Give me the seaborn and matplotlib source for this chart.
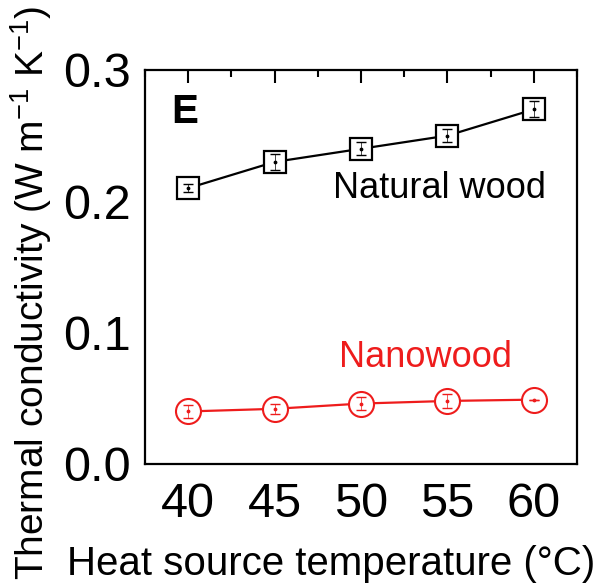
import matplotlib
matplotlib.use("Agg")
import matplotlib.pyplot as plt
import seaborn as sns
import pandas as pd
from matplotlib.ticker import MultipleLocator

temps = [40, 45, 50, 55, 60]
natural_wood = [0.210, 0.230, 0.240, 0.250, 0.270]
natural_err = [0.003, 0.006, 0.005, 0.005, 0.006]
nanowood = [0.040, 0.042, 0.046, 0.048, 0.049]
nanowood_err = [0.005, 0.004, 0.005, 0.005, 0.000]

sns.set_style("white")
plt.rcParams['font.family'] = ['Liberation Sans', 'DejaVu Sans']
plt.rcParams['mathtext.fontset'] = 'custom'
plt.rcParams['mathtext.rm'] = 'Liberation Sans'
plt.rcParams['text.color'] = 'black'
plt.rcParams['axes.labelcolor'] = 'black'
plt.rcParams['xtick.color'] = 'black'
plt.rcParams['ytick.color'] = 'black'

RED = "#ee1c1c"

df = pd.DataFrame({
    "T": temps * 2,
    "k": natural_wood + nanowood,
    "sample": ["Natural wood"] * 5 + ["Nanowood"] * 5,
})

fig = plt.figure(figsize=(6.01, 5.88), dpi=100)
ax = fig.add_axes([0.2413, 0.2109, 0.7188, 0.6701])

nw = df[df["sample"] == "Natural wood"]
nn = df[df["sample"] == "Nanowood"]
sns.lineplot(data=nw, x="T", y="k", ax=ax, color="black", lw=1.6,
             marker="s", markersize=16, markerfacecolor="white",
             markeredgecolor="black", markeredgewidth=1.6, legend=False)
sns.lineplot(data=nn, x="T", y="k", ax=ax, color=RED, lw=1.6,
             marker="o", markersize=18, markerfacecolor="white",
             markeredgecolor=RED, markeredgewidth=1.5, legend=False)

ax.errorbar(temps, natural_wood, yerr=natural_err, fmt="none", ecolor="black",
            elinewidth=0.5, capsize=3.6, capthick=1.0, zorder=5)
ax.errorbar(temps, nanowood, yerr=nanowood_err, fmt="none", ecolor=RED,
            elinewidth=0.5, capsize=3.6, capthick=1.0, zorder=5)
ax.scatter(temps, natural_wood, s=3, color="black", zorder=6)
ax.scatter(temps, nanowood, s=3, color=RED, zorder=6)

ax.set_xlim(37.5, 62.5)
ax.set_ylim(0.0, 0.3)
ax.xaxis.set_major_locator(MultipleLocator(5))
ax.xaxis.set_minor_locator(MultipleLocator(2.5))
ax.yaxis.set_major_locator(MultipleLocator(0.1))
ax.yaxis.set_minor_locator(MultipleLocator(0.02))
ax.yaxis.set_major_formatter(matplotlib.ticker.FormatStrFormatter("%.1f"))

ax.tick_params(axis="both", which="both", direction="in", top=True, right=False,
               labelsize=35, width=1.5, color="black", labelcolor="black")
ax.tick_params(which="major", length=9)
ax.tick_params(which="minor", length=5)
ax.tick_params(axis="x", pad=13)
ax.tick_params(axis="y", pad=10)
for s in ax.spines.values():
    s.set_linewidth(1.6)
    s.set_color("black")

ax.set_xlabel("Heat source temperature (°C)", fontsize=29)
ax.set_ylabel("Thermal conductivity (W m$^{-1}$ K$^{-1}$)", fontsize=28)
ax.xaxis.label.set_va("baseline")
ax.xaxis.set_label_coords(0.431, (464 - 575) / 394)
ax.yaxis.label.set_va("baseline")
ax.yaxis.set_label_coords((44 - 145) / 432, (464 - 293) / 394)

ax.text(0.06, 0.893, "E", transform=ax.transAxes, fontsize=29,
        fontweight="heavy", va="center", ha="left")
ax.text(60.7, 0.2025, "Natural wood", fontsize=26, ha="right", va="baseline",
        color="black")
ax.text(53.7, 0.0739, "Nanowood", fontsize=26, ha="center", va="baseline",
        color=RED)

fig.savefig("out.png", dpi=100)
